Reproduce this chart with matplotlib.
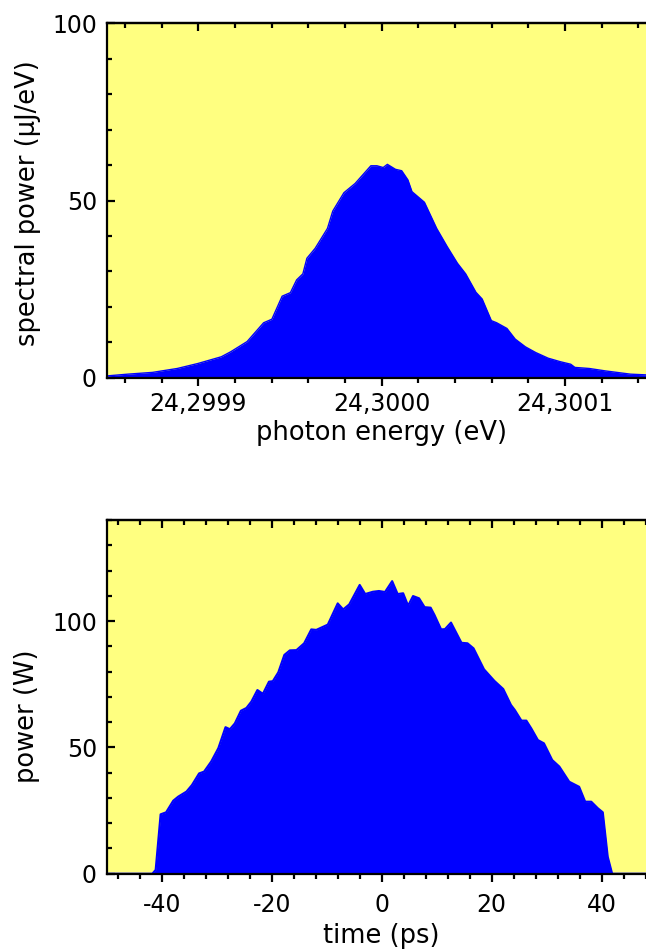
import matplotlib
matplotlib.use("Agg")
import matplotlib.pyplot as plt
from matplotlib.ticker import MultipleLocator, FixedLocator, FuncFormatter

# ---------------- data ----------------
# top panel: spectral power vs photon energy
energy_eV = [24.299850, 24.2998615, 24.299875, 24.2998885, 24.2998997, 24.2999125,
             24.2999176, 24.2999266, 24.2999356, 24.2999401, 24.2999457, 24.2999502,
             24.2999536, 24.2999570, 24.2999592, 24.2999637, 24.2999704, 24.2999733,
             24.2999794, 24.2999855, 24.2999941, 24.2999974, 24.3000008, 24.3000031,
             24.3000075, 24.3000109, 24.3000143, 24.3000165, 24.3000233, 24.3000300,
             24.3000357, 24.3000413, 24.3000458, 24.3000514, 24.3000548, 24.3000598,
             24.3000627, 24.3000683, 24.3000728, 24.3000784, 24.3000840, 24.3000908,
             24.3000975, 24.3001031, 24.3001054, 24.3001132, 24.3001222, 24.3001357,
             24.3001440, 24.3001500]
spectral_power = [0.5, 1.0, 1.5, 2.6, 4.0, 5.9,
                  7.3, 10.2, 15.5, 16.5, 23.0, 24.0,
                  27.6, 29.3, 33.7, 36.5, 42.1, 47.0,
                  52.2, 54.8, 59.8, 59.8, 59.3, 60.2,
                  58.8, 58.4, 55.8, 52.5, 49.5, 42.1,
                  37.0, 32.3, 29.3, 24.1, 22.2, 16.1,
                  15.5, 13.9, 10.9, 8.7, 7.1, 5.5,
                  4.5, 3.8, 2.9, 2.6, 1.9, 1.0,
                  0.8, 0.6]

# bottom panel: power vs time
time_ps = [-50.0, -41.7, -41.1, -40.2, -39.2, -37.9, -37.0, -35.5, -34.5, -33.2,
           -32.3, -31.0, -29.7, -28.4, -27.6, -26.7, -25.6, -24.6, -23.7, -22.6,
           -21.6, -20.5, -19.8, -18.8, -17.7, -16.7, -15.5, -14.1, -12.8, -11.9,
           -9.8, -8.0, -7.0, -5.9, -4.0, -3.0, -1.6, -0.5, 0.6, 1.9,
           2.9, 3.9, 4.8, 5.7, 6.8, 7.8, 8.9, 9.6, 10.8, 11.5,
           12.6, 14.5, 15.6, 16.7, 18.6, 20.5, 22.1, 23.5, 24.2, 25.4,
           26.3, 27.2, 28.4, 29.5, 31.0, 32.3, 34.1, 35.9, 37.0, 38.1,
           39.3, 40.2, 41.1, 41.9, 50.0]
power_W = [0.0, 0.0, 1.5, 23.5, 24.3, 28.9, 30.5, 32.5, 35.1, 39.7,
           40.4, 44.4, 49.7, 58.0, 57.2, 59.5, 64.5, 65.6, 68.1, 72.7,
           71.2, 76.0, 76.2, 79.7, 86.6, 88.4, 88.5, 91.2, 96.7, 96.5,
           98.6, 107.0, 104.6, 106.6, 114.3, 110.7, 111.6, 111.9, 111.5, 115.8,
           110.7, 111.0, 106.1, 109.9, 109.0, 105.5, 105.3, 102.4, 96.7, 96.8,
           99.4, 91.4, 91.2, 89.2, 80.9, 76.3, 73.1, 66.8, 64.8, 60.6,
           60.6, 57.5, 52.9, 51.6, 45.0, 42.4, 36.4, 34.4, 28.5, 28.5,
           25.9, 24.3, 6.7, 0.0, 0.0]

top_xticks = [24.2999, 24.3000, 24.3001]
top_yticks = [0, 50, 100]
bot_xticks = [-40, -20, 0, 20, 40]
bot_yticks = [0, 50, 100]

# ---------------- style ----------------
W, H = 646, 950
YELLOW = "#FFFF80"
BLUE = "#0000FF"
plt.rcParams["font.family"] = ["DejaVu Sans"]
plt.rcParams["axes.unicode_minus"] = False
TICK_FS = 17
LABEL_FS = 18.5
LW = 1.6

fig = plt.figure(figsize=(W / 100, H / 100), dpi=100)

def px_axes(left, top, right, bottom):
    return [left / W, 1 - bottom / H, (right - left) / W, (bottom - top) / H]

def style(ax, xmajor, xminor, ymajor_step, yminor_step, xfmt=None, xpad=4.5):
    ax.set_facecolor(YELLOW)
    for s in ax.spines.values():
        s.set_linewidth(LW)
    ax.xaxis.set_major_locator(FixedLocator(xmajor))
    ax.xaxis.set_minor_locator(MultipleLocator(xminor))
    ax.yaxis.set_major_locator(MultipleLocator(ymajor_step))
    ax.yaxis.set_minor_locator(MultipleLocator(yminor_step))
    if xfmt is not None:
        ax.xaxis.set_major_formatter(xfmt)
    ax.tick_params(axis="x", which="both", direction="out", top=False, bottom=True,
                   labelsize=TICK_FS, pad=xpad, width=LW)
    ax.tick_params(axis="x", which="major", length=6)
    ax.tick_params(axis="x", which="minor", length=3.5)
    ax.tick_params(axis="y", which="both", direction="in", left=True, right=False,
                   labelsize=TICK_FS, pad=7, width=LW)
    ax.tick_params(axis="y", which="major", length=6)
    ax.tick_params(axis="y", which="minor", length=3.5)
    sec = ax.secondary_xaxis("top")
    sec.xaxis.set_major_locator(FixedLocator(xmajor))
    sec.xaxis.set_minor_locator(MultipleLocator(xminor))
    sec.tick_params(axis="x", which="both", direction="in", labeltop=False, width=LW)
    sec.tick_params(axis="x", which="major", length=6)
    sec.tick_params(axis="x", which="minor", length=3.5)
    sec.spines["top"].set_linewidth(LW)

comma_fmt = FuncFormatter(lambda v, p: f"{v:.4f}".replace(".", ","))

# top panel
ax1 = fig.add_axes(px_axes(106.7, 23.3, 656.7, 377.7))
ax1.fill_between(energy_eV, spectral_power, 0, color=BLUE, lw=0)
ax1.plot(energy_eV, spectral_power, color=BLUE, lw=1)
ax1.set_xlim(24.29985, 24.30015)
ax1.set_ylim(0, 100)
style(ax1, top_xticks, 0.00002, 50, 10, xfmt=comma_fmt, xpad=4.5)
ax1.yaxis.set_major_locator(FixedLocator(top_yticks))
ax1.set_xlabel("photon energy (eV)", fontsize=LABEL_FS, va="baseline")
ax1.xaxis.set_label_coords(381.7 / W, 1 - 440 / H, transform=fig.transFigure)
ax1.set_ylabel("spectral power (\u03bcJ/eV)", fontsize=LABEL_FS, va="baseline")
ax1.yaxis.set_label_coords(35 / W, 1 - 203 / H, transform=fig.transFigure)

# bottom panel
ax2 = fig.add_axes(px_axes(106.7, 520.0, 656.7, 873.7))
ax2.fill_between(time_ps, power_W, 0, color=BLUE, lw=0)
ax2.plot(time_ps, power_W, color=BLUE, lw=1.5)
ax2.set_xlim(-50, 50)
ax2.set_ylim(0, 140)
style(ax2, bot_xticks, 4, 50, 10, xpad=8)
ax2.yaxis.set_major_locator(FixedLocator(bot_yticks))
ax2.set_xlabel("time (ps)", fontsize=LABEL_FS, va="baseline")
ax2.xaxis.set_label_coords(381.7 / W, 1 - 943 / H, transform=fig.transFigure)
ax2.set_ylabel("power (W)", fontsize=LABEL_FS, va="baseline")
ax2.yaxis.set_label_coords(34 / W, 1 - 716 / H, transform=fig.transFigure)

fig.savefig("out.png", dpi=100)
